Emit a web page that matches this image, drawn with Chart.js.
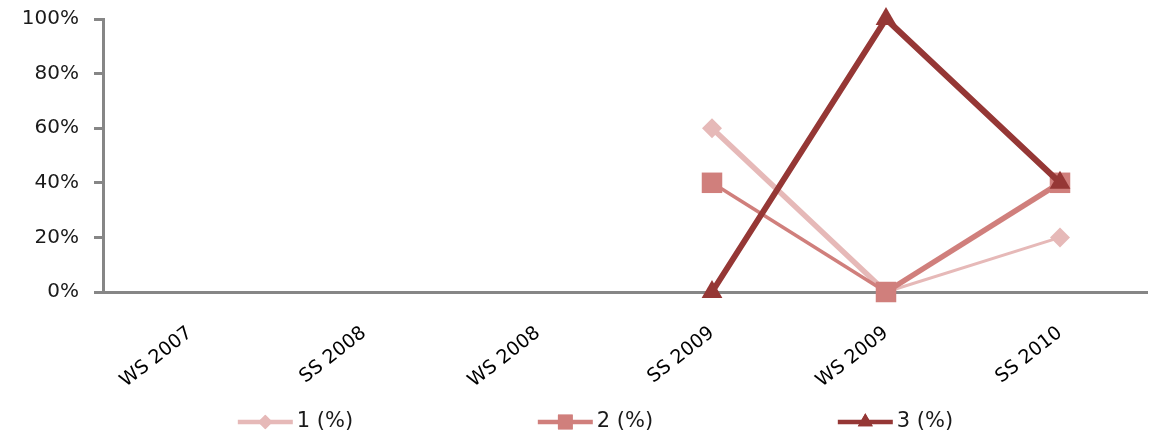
<!DOCTYPE html>
<html>
<head>
<meta charset="utf-8">
<script src="https://cdn.jsdelivr.net/npm/chart.js@4/dist/chart.umd.min.js"></script>
<style>
  html, body { margin: 0; padding: 0; background: #fff; }
  #wrap { width: 1151px; height: 438px; }
</style>
</head>
<body>
<div id="wrap"><canvas id="semesterChart"></canvas></div>
<script>
"use strict";
// ========== DATA ========== //
const _semesters = ["WS 2007", "SS 2008", "WS 2008", "SS 2009", "WS 2009", "SS 2010"];
const _seriesNames = ["1 (%)", "2 (%)", "3 (%)"];
const _series1 = [null, null, null, 60, 0, 20];
const _series2 = [null, null, null, 40, 0, 40];
const _series3 = [null, null, null, 0, 100, 40];
const _yTicks = [0, 20, 40, 60, 80, 100];

// ========== STYLE ========== //
const _colors = ["#E6B9B8", "#D07F7C", "#953735"];
const _markers = ["rectRot", "rect", "triangle"];
const _markerSizes = [10, 14.5, 12];
// line width per segment (index = start point of the segment)
const _segWidths = [
  [5, 5, 5, 5.5, 3, 3],
  [4, 4, 4, 3.5, 5.5, 5.5],
  [6, 6, 6, 6, 6, 6]
];
const _axisColor = "#868686";
const _font = "'DejaVu Sans', Verdana, sans-serif";

// legend drawn by hand: line + marker, wide gaps like the original
const lineLegend = {
  id: "lineLegend",
  afterDraw(chart) {
    const ctx = chart.ctx;
    const y = chart.height - 16;
    const step = 300;
    const lineLen = 55;
    ctx.save();
    ctx.font = "21px " + _font;
    ctx.textBaseline = "middle";
    const lastW = lineLen + 4 + ctx.measureText(_seriesNames[2]).width;
    let x = chart.width / 2 + 20 - (step * 2 + lastW) / 2;
    chart.data.datasets.forEach(function(ds) {
      ctx.strokeStyle = ds.borderColor;
      ctx.lineWidth = 4.5;
      ctx.beginPath();
      ctx.moveTo(x, y);
      ctx.lineTo(x + lineLen, y);
      ctx.stroke();
      ctx.fillStyle = ds.borderColor;
      Chart.helpers.drawPoint(ctx, {pointStyle: ds.pointStyle, radius: ds.pointRadius * 0.72, borderWidth: 0}, x + lineLen / 2, y);
      ctx.fill();
      ctx.fillStyle = "#1a1a1a";
      ctx.fillText(ds.label, x + lineLen + 4, y);
      x += step;
    });
    ctx.restore();
  }
};

function makeDataset(label, values, i) {
  return {
    label: label,
    data: values,
    borderColor: _colors[i],
    backgroundColor: _colors[i],
    borderWidth: 5,
    segment: { borderWidth: ctx => _segWidths[i][ctx.p0DataIndex] },
    pointStyle: _markers[i],
    pointRadius: _markerSizes[i],
    pointHoverRadius: _markerSizes[i],
    pointBorderWidth: 0,
    tension: 0,
    clip: false,
    order: 3 - i
  };
}

const _chart = new Chart(document.querySelector("#semesterChart"), {
  type: "line",
  data: {
    labels: _semesters,
    datasets: [
      makeDataset(_seriesNames[0], _series1, 0),
      makeDataset(_seriesNames[1], _series2, 1),
      makeDataset(_seriesNames[2], _series3, 2)
    ]
  },
  options: {
    responsive: true,
    maintainAspectRatio: false,
    animation: false,
    layout: { autoPadding: false, padding: { top: 19, right: 4, bottom: 42, left: 0 } },
    plugins: {
      legend: { display: false },
      tooltip: { enabled: false }
    },
    scales: {
      x: {
        offset: true,
        afterFit(scale) {
          scale.height = 104;
          scale.paddingLeft = 0;
          scale.paddingRight = 0;
        },
        grid: { display: false, drawTicks: false },
        border: { display: true, color: _axisColor, width: 3 },
        ticks: {
          minRotation: 38,
          maxRotation: 38,
          padding: 30,
          color: "#000",
          font: { family: _font, size: 19 }
        }
      },
      y: {
        min: 0,
        max: 100,
        afterFit(scale) {
          scale.width = 103;
          scale.paddingTop = 0;
          scale.paddingBottom = 0;
        },
        afterBuildTicks(scale) { scale.ticks = _yTicks.map(v => ({ value: v })); },
        grid: { drawOnChartArea: false, drawTicks: true, tickLength: 9, color: _axisColor, lineWidth: 3 },
        border: { display: true, color: _axisColor, width: 3 },
        ticks: {
          padding: 15,
          color: "#1a1a1a",
          font: { family: _font, size: 20 },
          callback: v => v + "%"
        }
      }
    }
  },
  plugins: [lineLegend]
});
</script>
</body>
</html>
